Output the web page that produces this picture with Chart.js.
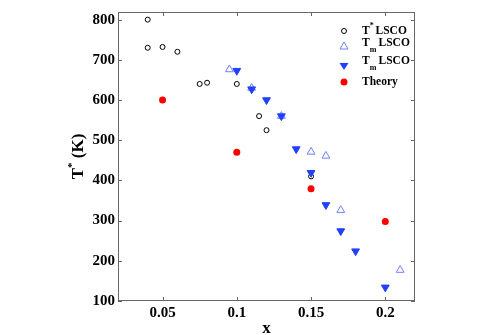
<!DOCTYPE html>
<html>
<head>
<meta charset="utf-8">
<script src="https://cdn.jsdelivr.net/npm/chart.js@4/dist/chart.umd.min.js"></script>
<style>
  html, body { margin: 0; padding: 0; background: #fff; overflow: hidden; }
  #wrap { width: 491px; height: 335px; position: relative; }
</style>
</head>
<body>
<div id="wrap"><canvas id="chart"></canvas></div>
<script>
// T* LSCO (open circles)
const tStarX = [0.04, 0.04, 0.05, 0.06, 0.075, 0.08, 0.1, 0.115, 0.12, 0.15];
const tStarY = [800, 730, 732, 720, 640, 643, 640, 560, 525, 410];
// Tm LSCO (open triangles)
const tmOpenX = [0.095, 0.11, 0.13, 0.15, 0.16, 0.17, 0.21];
const tmOpenY = [676, 630, 560, 471, 461, 326, 177];
// Tm LSCO (filled down triangles)
const tmFillX = [0.1, 0.11, 0.12, 0.13, 0.14, 0.15, 0.16, 0.17, 0.18, 0.2];
const tmFillY = [673, 627, 600, 560, 478, 419, 339, 274, 224, 134];
// Theory
const theoryX = [0.05, 0.1, 0.15, 0.2];
const theoryY = [600, 470, 379, 298];

const xTicks = [0.05, 0.1, 0.15, 0.2];
const yTicks = [100, 200, 300, 400, 500, 600, 700, 800];

const SERIF = '"Liberation Serif", "Times New Roman", serif';
const pts = (xs, ys) => xs.map((x, i) => ({ x: x, y: ys[i] }));

// frame, inward ticks, titles and legend
const decor = {
    id: 'decor',
    afterDraw(chart) {
        const ctx = chart.ctx;
        const { left, right, top, bottom } = chart.chartArea;
        const xs = chart.scales.x, ys = chart.scales.y;
        ctx.save();
        ctx.strokeStyle = '#666';
        ctx.lineWidth = 1;
        ctx.strokeRect(left + 0.5, top + 0.5, right - left - 1, bottom - top - 1);
        ctx.beginPath();
        xTicks.forEach(v => {
            const px = Math.round(xs.getPixelForValue(v)) + 0.5;
            ctx.moveTo(px, bottom); ctx.lineTo(px, bottom - 4);
            ctx.moveTo(px, top); ctx.lineTo(px, top + 4);
        });
        yTicks.forEach(v => {
            const py = Math.round(ys.getPixelForValue(v)) + 0.5;
            ctx.moveTo(left, py); ctx.lineTo(left + 4, py);
            ctx.moveTo(right, py); ctx.lineTo(right - 4, py);
        });
        ctx.stroke();

        // axis titles
        ctx.fillStyle = '#000';
        ctx.textBaseline = 'middle';
        ctx.font = 'bold 17px ' + SERIF;
        ctx.textAlign = 'center';
        ctx.fillText('x', (left + right) / 2, 329);

        ctx.save();
        ctx.translate(79, (top + bottom) / 2);
        ctx.rotate(-Math.PI / 2);
        ctx.textAlign = 'left';
        const big = 'bold 17px ' + SERIF, small = 'bold 11px ' + SERIF;
        ctx.font = big; const wT = ctx.measureText('T').width;
        ctx.font = small; const wS = ctx.measureText('*').width;
        ctx.font = big; const wK = ctx.measureText(' (K)').width;
        let x0 = -(wT + wS + wK) / 2;
        ctx.fillText('T', x0, 0);
        ctx.font = small; ctx.fillText('*', x0 + wT, -7);
        ctx.font = big; ctx.fillText(' (K)', x0 + wT + wS, 0);
        ctx.restore();

        // legend
        const mx = 344, tx = 362;
        const rows = [31, 46, 66, 82];
        ctx.lineWidth = 1;
        ctx.strokeStyle = '#000';
        ctx.beginPath(); ctx.arc(mx, rows[0], 2.5, 0, Math.PI * 2); ctx.stroke();
        ctx.strokeStyle = '#6f80ff';
        ctx.beginPath();
        ctx.moveTo(mx, rows[1] - 4); ctx.lineTo(mx + 4, rows[1] + 3); ctx.lineTo(mx - 4, rows[1] + 3);
        ctx.closePath(); ctx.stroke();
        ctx.fillStyle = '#2040ff';
        ctx.beginPath();
        ctx.moveTo(mx, rows[2] + 4); ctx.lineTo(mx + 4.5, rows[2] - 3); ctx.lineTo(mx - 4.5, rows[2] - 3);
        ctx.closePath(); ctx.fill();
        ctx.fillStyle = '#ff0000';
        ctx.beginPath(); ctx.arc(mx, rows[3], 3.5, 0, Math.PI * 2); ctx.fill();

        ctx.fillStyle = '#000';
        ctx.textAlign = 'left';
        const lf = 'bold 11.5px ' + SERIF, lsm = 'bold 8px ' + SERIF;
        ctx.font = lf; const w1 = ctx.measureText('T').width;
        ctx.fillText('T', tx, rows[0]);
        ctx.font = lsm; ctx.fillText('*', tx + w1, rows[0] - 5);
        ctx.font = lf; ctx.fillText(' LSCO', tx + w1 + 3, rows[0]);
        [rows[1] - 3, rows[2] - 5].forEach(y => {
            ctx.font = lf; ctx.fillText('T', tx, y);
            ctx.font = lsm; ctx.fillText('m', tx + w1, y + 7);
            ctx.font = lf; ctx.fillText(' LSCO', tx + w1 + 6, y);
        });
        ctx.font = lf; ctx.fillText('Theory', tx, rows[3]);
        ctx.restore();
    }
};

new Chart(document.getElementById('chart'), {
    type: 'scatter',
    data: {
        datasets: [
            {
                label: 'Tm LSCO filled',
                data: pts(tmFillX, tmFillY),
                pointStyle: 'triangle',
                rotation: 180,
                pointRadius: 4.5,
                backgroundColor: '#2040ff',
                borderColor: '#2040ff',
                borderWidth: 1,
                order: 1
            },
            {
                label: 'Tm LSCO',
                data: pts(tmOpenX, tmOpenY),
                pointStyle: 'triangle',
                pointRadius: 4.5,
                backgroundColor: 'rgba(0,0,0,0)',
                borderColor: '#6f80ff',
                borderWidth: 1,
                order: 2
            },
            {
                label: 'T* LSCO',
                data: pts(tStarX, tStarY),
                pointStyle: 'circle',
                pointRadius: 2.5,
                backgroundColor: 'rgba(0,0,0,0)',
                borderColor: '#000',
                borderWidth: 1,
                order: 3
            },
            {
                label: 'Theory',
                data: pts(theoryX, theoryY),
                pointStyle: 'circle',
                pointRadius: 3.5,
                backgroundColor: '#ff0000',
                borderColor: '#ff0000',
                borderWidth: 0,
                order: 4
            }
        ]
    },
    options: {
        responsive: true,
        maintainAspectRatio: false,
        animation: false,
        layout: { padding: { left: 0, right: 76, top: 12, bottom: 0 } },
        plugins: { legend: { display: false }, tooltip: { enabled: false } },
        scales: {
            x: {
                type: 'linear',
                min: 0.02,
                max: 0.22,
                afterBuildTicks: s => { s.ticks = xTicks.map(v => ({ value: v })); },
                afterFit: s => { s.height = 34; },
                grid: { display: false, drawTicks: false },
                border: { display: false },
                ticks: {
                    padding: 3,
                    maxRotation: 0,
                    color: '#000',
                    font: { family: SERIF, size: 15, weight: 'bold' },
                    callback: v => String(v)
                }
            },
            y: {
                type: 'linear',
                min: 100,
                max: 819,
                afterBuildTicks: s => { s.ticks = yTicks.map(v => ({ value: v })); },
                afterFit: s => { s.width = 118; },
                grid: { display: false, drawTicks: false },
                border: { display: false },
                ticks: {
                    padding: 3,
                    color: '#000',
                    font: { family: SERIF, size: 15, weight: 'bold' },
                    callback: v => String(v)
                }
            }
        }
    },
    plugins: [decor]
});
</script>
</body>
</html>
